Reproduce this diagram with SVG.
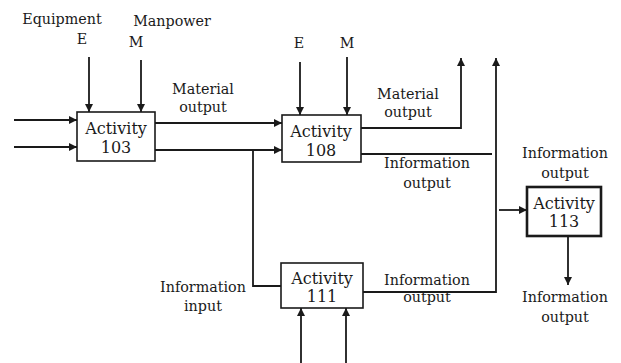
<svg xmlns="http://www.w3.org/2000/svg" width="621" height="363" viewBox="0 0 621 363">
  <style>
    .box { fill: #ffffff; stroke: #1a1a1a; stroke-width: 1.6; }
    .box.bold { stroke-width: 2.6; }
    .ln { fill: none; stroke: #1a1a1a; stroke-width: 1.8; }
    .arr { marker-end: url(#head); }
    text { font-family: "DejaVu Serif", "Liberation Serif", serif; fill: #1a1a1a; text-anchor: middle; }
    .t { font-size: 14.3px; }
    .act { font-size: 16px; }
  </style>
  <defs>
    <marker id="head" viewBox="0 0 10 10" refX="10" refY="5" markerWidth="9" markerHeight="8" markerUnits="userSpaceOnUse" orient="auto">
      <path d="M0,0 L10,5 L0,10 Z" fill="#1a1a1a"/>
    </marker>
  </defs>
  <rect width="621" height="363" fill="#ffffff"/>

  <!-- connectors -->
  <g id="connectors">
    <!-- inputs to Activity 103 -->
    <line class="ln arr" x1="14" y1="120" x2="77" y2="120"/>
    <line class="ln arr" x1="14" y1="147" x2="77" y2="147"/>
    <line class="ln arr" x1="89" y1="57" x2="89" y2="112"/>
    <line class="ln arr" x1="141" y1="60" x2="141" y2="112"/>
    <!-- 103 to 108 -->
    <line class="ln arr" x1="155" y1="123" x2="282" y2="123"/>
    <line class="ln arr" x1="155" y1="150" x2="282" y2="150"/>
    <!-- information branch down to Activity 111 -->
    <polyline class="ln" points="253,150 253,286 281,286"/>
    <!-- E, M into 108 -->
    <line class="ln arr" x1="300" y1="62" x2="300" y2="115"/>
    <line class="ln arr" x1="347" y1="57" x2="347" y2="115"/>
    <!-- 108 outputs -->
    <polyline class="ln arr" points="361,128 461,128 461,58"/>
    <line class="ln" x1="361" y1="154" x2="492" y2="154"/>
    <!-- 111 output rising line -->
    <polyline class="ln arr" points="363,292 496,292 496,58"/>
    <line class="ln arr" x1="499" y1="210" x2="527" y2="210"/>
    <!-- inputs under 111 -->
    <line class="ln arr" x1="301" y1="363" x2="301" y2="308"/>
    <line class="ln arr" x1="346" y1="363" x2="346" y2="308"/>
    <!-- 113 output -->
    <line class="ln arr" x1="568" y1="236" x2="568" y2="285"/>
  </g>

  <!-- free labels -->
  <g id="labels">
    <text class="t" x="62" y="24">Equipment</text>
    <text class="t" x="82" y="44">E</text>
    <text class="t" x="172" y="26">Manpower</text>
    <text class="t" x="136" y="47">M</text>
    <text class="t" x="203" y="94">Material</text>
    <text class="t" x="203" y="112">output</text>
    <text class="t" x="299" y="48">E</text>
    <text class="t" x="347" y="48">M</text>
    <text class="t" x="408" y="99">Material</text>
    <text class="t" x="408" y="117">output</text>
    <text class="t" x="427" y="168">Information</text>
    <text class="t" x="427" y="188">output</text>
    <text class="t" x="203" y="292">Information</text>
    <text class="t" x="203" y="311">input</text>
    <text class="t" x="427" y="285">Information</text>
    <text class="t" x="427" y="302">output</text>
    <text class="t" x="565" y="158">Information</text>
    <text class="t" x="565" y="178">output</text>
    <text class="t" x="565" y="302">Information</text>
    <text class="t" x="565" y="322">output</text>
  </g>

  <g id="activity-103">
    <rect class="box" x="77" y="112" width="78" height="49"/>
    <text class="act" x="116" y="134">Activity</text>
    <text class="act" x="116" y="153">103</text>
  </g>
  <g id="activity-108">
    <rect class="box" x="282" y="115" width="79" height="47"/>
    <text class="act" x="321" y="137">Activity</text>
    <text class="act" x="321" y="156">108</text>
  </g>
  <g id="activity-111">
    <rect class="box" x="281" y="263" width="82" height="45"/>
    <text class="act" x="322" y="284">Activity</text>
    <text class="act" x="322" y="302">111</text>
  </g>
  <g id="activity-113">
    <rect class="box bold" x="527" y="187" width="74" height="49"/>
    <text class="act" x="564" y="209">Activity</text>
    <text class="act" x="564" y="227">113</text>
  </g>
</svg>
